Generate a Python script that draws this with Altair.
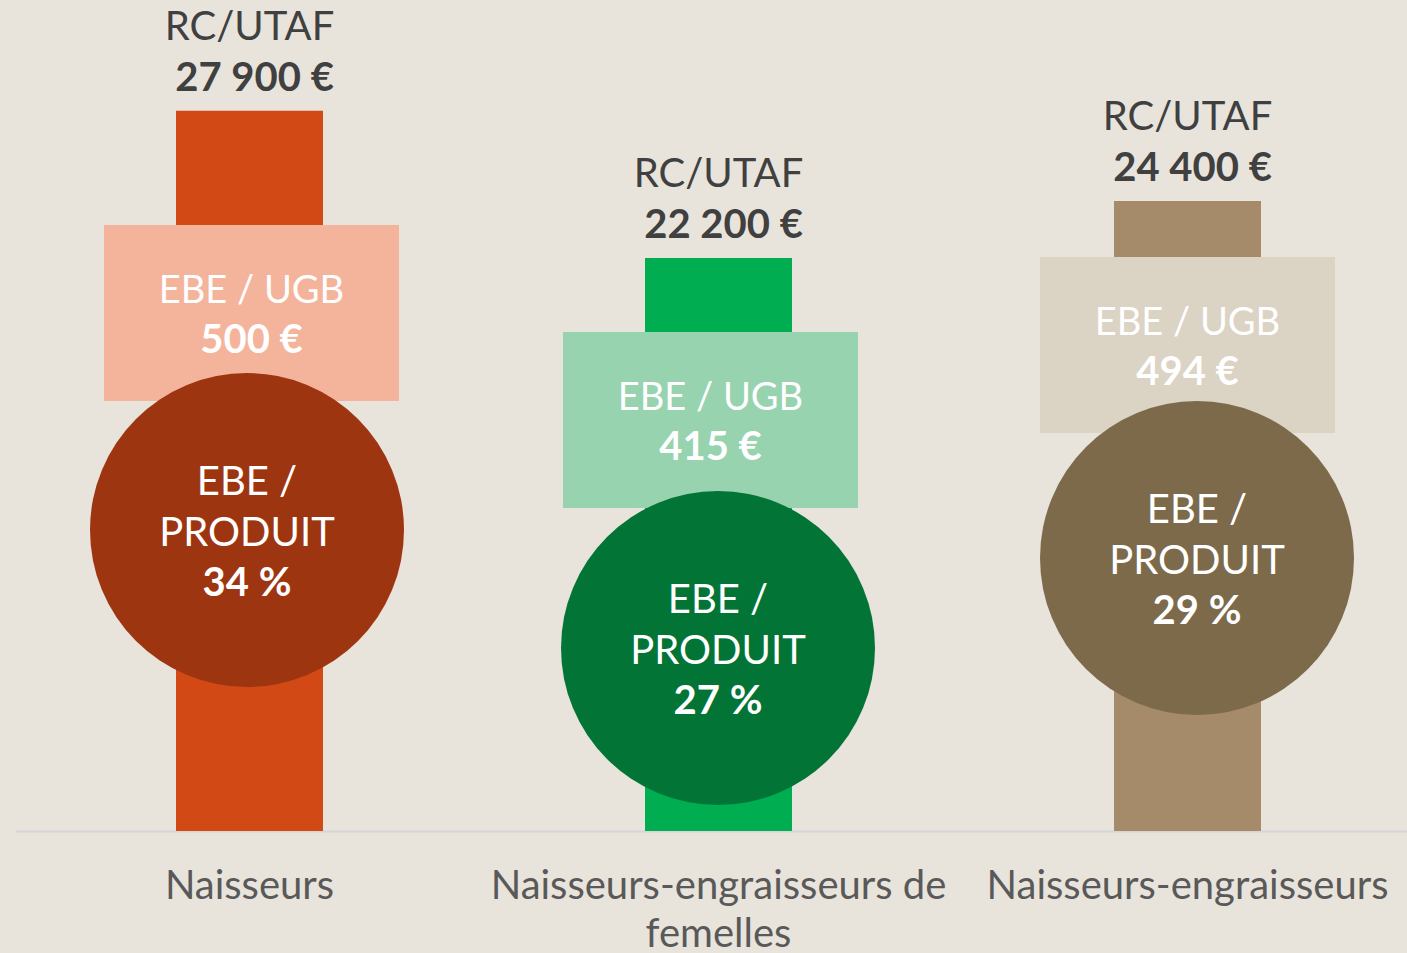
import altair as alt
import pandas as pd
import jinja2

# ---- data ----
categories = ["Naisseurs", "Naisseurs-engraisseurs de femelles", "Naisseurs-engraisseurs"]
rc_utaf = [27900, 22200, 24400]          # RC/UTAF (€)
ebe_ugb = [500, 415, 494]                # EBE / UGB (€)
ebe_produit = [34, 27, 29]               # EBE / PRODUIT (%)

# ---- styles ----
bar_colors = ["#D34916", "#00AD50", "#A58B69"]
rect_colors = ["#F4B49C", "#97D3AF", "#DBD3C4"]
circle_colors = ["#9E3511", "#027436", "#7C6A4B"]
BG = "#E8E4DC"
FONT = "Lato"
FS = 40

# ---- layout (pixels inside plot area) ----
rect_top = [217, 324, 249]
rect_h = 176
rect_dx = [2, -8, 0]
circle_cy = [522, 640, 550]
circle_dx = [-2.5, -0.5, 9.5]
circle_d = 314


def euro(v):
    return f"{v:,}".replace(",", " ") + " €"


df = pd.DataFrame({
    "cat": categories,
    "rc": rc_utaf,
    "rc_label": [euro(v) for v in rc_utaf],
    "ugb_label": [euro(v) for v in ebe_ugb],
    "prod_label": [f"{v} %" for v in ebe_produit],
})

x_enc = alt.X(
    "cat:N", sort=categories, title=None,
    scale=alt.Scale(paddingInner=0.064, paddingOuter=0.016, align=1, round=False),
    axis=alt.Axis(
        labelAngle=0, labelFont=FONT, labelFontSize=FS, labelColor="#595959",
        labelBaseline="alphabetic", labelPadding=67, labelLineHeight=48,
        labelLimit=600, ticks=False, tickSize=0, domainColor="#D6D6DA",
        domainWidth=2, grid=False,
        labelExpr="datum.label == 'Naisseurs-engraisseurs de femelles' ? ['Naisseurs-engraisseurs de', 'femelles'] : datum.label",
    ),
)
y_enc = alt.Y("rc:Q", scale=alt.Scale(domain=[0, 31880], nice=False, zero=True), axis=None)

base = alt.Chart(df)

bars = base.mark_bar(width=147).encode(
    x=x_enc, y=y_enc,
    color=alt.Color("cat:N", scale=alt.Scale(domain=categories, range=bar_colors), legend=None),
)

top_label = base.mark_text(font=FONT, fontSize=FS, color="#404040", baseline="alphabetic", dy=-71).encode(
    x=x_enc, y=y_enc, text=alt.value("RC/UTAF"))
top_value = base.mark_text(font=FONT, fontSize=FS, fontWeight="bold", color="#404040",
                           baseline="alphabetic", dy=-20, dx=5).encode(
    x=x_enc, y=y_enc, text="rc_label:N")

layers = [bars, top_label, top_value]

for i, c in enumerate(categories):
    d = df[df["cat"] == c]
    ch = alt.Chart(d)
    rc_center = rect_top[i] + rect_h / 2
    layers.append(ch.mark_bar(width=295, color=rect_colors[i], xOffset=rect_dx[i]).encode(
        x=x_enc, y=alt.value(rect_top[i]), y2=alt.value(rect_top[i] + rect_h)))
    layers.append(ch.mark_text(font=FONT, fontSize=38, color="white", baseline="alphabetic",
                               xOffset=rect_dx[i]).encode(
        x=x_enc, y=alt.value(rc_center - 10), text=alt.value("EBE / UGB")))
    layers.append(ch.mark_text(font=FONT, fontSize=FS, fontWeight="bold", color="white",
                               baseline="alphabetic", xOffset=rect_dx[i]).encode(
        x=x_enc, y=alt.value(rc_center + 40), text="ugb_label:N"))
    layers.append(ch.mark_circle(size=circle_d * circle_d, color=circle_colors[i], opacity=1,
                                 xOffset=circle_dx[i]).encode(
        x=x_enc, y=alt.value(circle_cy[i])))
    layers.append(ch.mark_text(font=FONT, fontSize=FS, color="white", baseline="alphabetic",
                               xOffset=circle_dx[i]).encode(
        x=x_enc, y=alt.value(circle_cy[i] - 35), text=alt.value("EBE /")))
    layers.append(ch.mark_text(font=FONT, fontSize=FS, color="white", baseline="alphabetic",
                               xOffset=circle_dx[i]).encode(
        x=x_enc, y=alt.value(circle_cy[i] + 16), text=alt.value("PRODUIT")))
    layers.append(ch.mark_text(font=FONT, fontSize=FS, fontWeight="bold", color="white",
                               baseline="alphabetic", xOffset=circle_dx[i]).encode(
        x=x_enc, y=alt.value(circle_cy[i] + 66), text="prod_label:N"))

chart = alt.layer(*layers).properties(
    width=1392, height=823,
    padding={"left": 15, "top": 8, "right": 0, "bottom": 122},
    autosize="none",
    background=BG,
).configure_view(stroke=None)

# page template: same CDN scripts, beige page background, no body margin
PAGE = jinja2.Template("""<!DOCTYPE html>
<html>
<head>
<meta charset="utf-8">
<style>
html, body { margin: 0; padding: 0; background: #E8E4DC; overflow: hidden; }
</style>
<script type="text/javascript" src="{{ base_url|default('https://cdn.jsdelivr.net/npm') }}/vega@{{ vega_version|default('6') }}"></script>
<script type="text/javascript" src="{{ base_url|default('https://cdn.jsdelivr.net/npm') }}/vega-lite@{{ vegalite_version|default('6') }}"></script>
<script type="text/javascript" src="{{ base_url|default('https://cdn.jsdelivr.net/npm') }}/vega-embed@{{ vegaembed_version|default('7') }}"></script>
</head>
<body>
<div id="vis"></div>
<script type="text/javascript">
  vegaEmbed("#vis", {{ spec }}, {{ embed_options|default('{}') }}).catch(console.error);
</script>
</body>
</html>
""")

try:
    chart.save("out.html", embed_options={"renderer": "svg", "actions": False}, template=PAGE)
except Exception:
    chart.save("out.html", embed_options={"renderer": "svg", "actions": False})
